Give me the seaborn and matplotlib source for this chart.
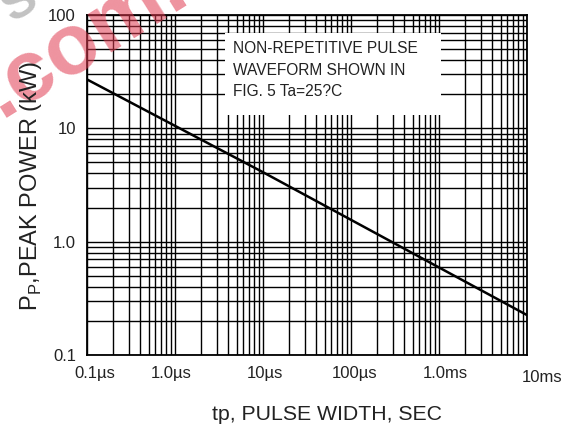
import numpy as np
import pandas as pd
import seaborn as sns
import matplotlib.pyplot as plt
import matplotlib.transforms as mtransforms
from matplotlib.patches import Rectangle

# values (pulse width in seconds, peak power in kW)
tp_sec = [1e-7, 1e-5, 1e-2]
pp_kw = [27.0, 4.1, 0.225]

x_ticks = [1e-7, 1e-6, 1e-5, 1e-4, 1e-3, 1e-2]
x_labels = ["0.1\u00b5s", "1.0\u00b5s", "10\u00b5s", "100\u00b5s", "1.0ms", "10ms"]
y_ticks = [0.1, 1.0, 10, 100]
y_labels = ["0.1", "1.0", "10", "100"]

note = "NON-REPETITIVE PULSE\nWAVEFORM SHOWN IN\nFIG. 5 Ta=25?C"

sns.set_style("white")
plt.rcParams['font.family'] = ['Liberation Sans', 'DejaVu Sans']
plt.rcParams['mathtext.fontset'] = 'custom'
plt.rcParams['mathtext.rm'] = 'Liberation Sans'

df = pd.DataFrame({"tp": tp_sec, "pp": pp_kw})

fig = plt.figure(figsize=(5.79, 4.32), dpi=100)
ax = fig.add_axes([87/579, 1 - 355/432, 440/579, 340/432])
ax.set_xscale("log")
ax.set_yscale("log")
sns.lineplot(data=df, x="tp", y="pp", color="black", lw=1.8, ax=ax, zorder=2)

ax.set_xlim(1e-7, 1e-2)
ax.set_ylim(0.1, 100)
ax.set_axisbelow(True)
ax.grid(which="both", color="black", lw=1.0)
ax.minorticks_on()
ax.set_xticks(x_ticks)
ax.set_xticklabels(x_labels)
ax.set_yticks(y_ticks)
ax.set_yticklabels(y_labels)
ax.tick_params(which="both", length=0, labelsize=12, colors="#222222")
ax.tick_params(axis="x", pad=8)
ax.tick_params(axis="y", pad=8)
for s in ax.spines.values():
    s.set_color("black")
    s.set_linewidth(1.3)
ax.set_xlabel("")
ax.set_ylabel("")

# nudge x tick labels like the original
shifts = [(8, 0), (-4, 0), (2, 0), (4, 0), (6, 0), (15, -4)]
for lab, (dx, dy) in zip(ax.get_xticklabels(), shifts):
    lab.set_transform(lab.get_transform() + mtransforms.ScaledTranslation(dx/100, dy/100, fig.dpi_scale_trans))

# white box for the note
ax.add_patch(Rectangle((0.3136, 0.706), 0.491, 0.241, transform=ax.transAxes,
                       facecolor="white", edgecolor="none", zorder=3))
fig.text(233/579, 1 - 41/432, note, ha="left", va="top", fontsize=11.2,
         linespacing=1.55, color="#222222", zorder=4)

fig.text(327/579, 1 - 415/432, "tp, PULSE WIDTH, SEC", ha="center", va="center",
         fontsize=15.3, color="#222222", zorder=5)
fig.text(31/579, 1 - 186/432, r"P$_\mathregular{P}$,PEAK POWER (kW)", ha="center",
         va="center", rotation=90, fontsize=17, color="#222222", zorder=5)

# watermark
fig.text(84/579, 1 - 40/432, ".com.", ha="center", va="center", rotation=32,
         fontsize=62, fontweight="bold", color="#e03a50", alpha=0.55, zorder=2)
fig.text(20/579, 1 - 3/432, "S", ha="center", va="center", rotation=32,
         fontsize=36, fontweight="bold", color="#999999", alpha=0.6, zorder=2)

fig.savefig("out.png", dpi=100)
